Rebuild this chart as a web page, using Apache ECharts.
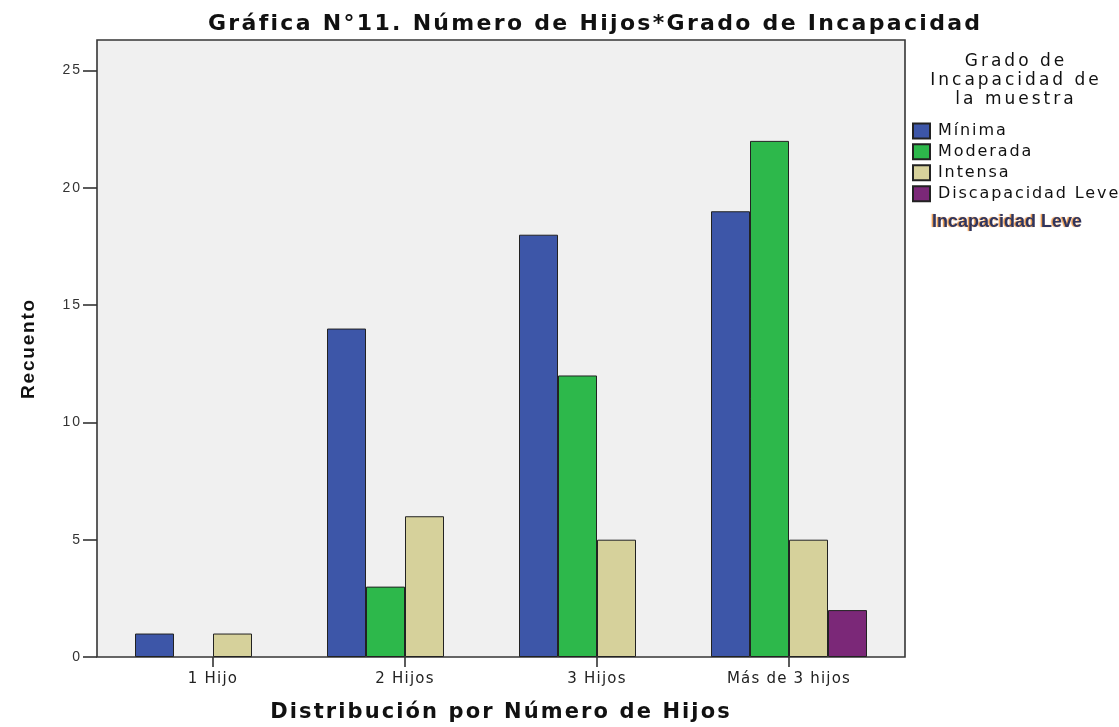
<!DOCTYPE html>
<html>
<head>
<meta charset="utf-8">
<script src="https://cdn.jsdelivr.net/npm/echarts@6/dist/echarts.min.js"></script>
<style>
  html, body { margin: 0; padding: 0; background: #fff; }
  #main { width: 1119px; height: 727px; }
</style>
</head>
<body>
<div id="main"></div>
<script>
// categorias y valores
const categorias = ["1 Hijo", "2 Hijos", "3 Hijos", "Más de 3 hijos"];
const minima = [1, 14, 18, 19];
const moderada = [null, 3, 12, 22];
const intensa = [1, 6, 5, 5];
const discLeve = [null, null, null, 2];
const yTicks = [0, 5, 10, 15, 20, 25];

const colores = ["#3d56a8", "#2db84b", "#d6d19b", "#7b2878"];
const nombres = ["Mínima", "Moderada", "Intensa", "Discapacidad Leve"];
const datos = [minima, moderada, intensa, discLeve];

const font = "Liberation Sans, Arial, sans-serif";
const wide = "DejaVu Sans, Verdana, sans-serif";

// el grafico original tiene el texto espaciado; espaciado por tamaño de letra
const espaciado = { 22: 2.3, 21: 2.1, 19: 1.8, 17: 3, 16: 1.9, 15: 1.2, 14: 2, 18: 0 };
const spacingFor = (f) => {
  let m = /(\d+(\.\d+)?)px/.exec(f || "");
  let px = m ? parseFloat(m[1]) : 12;
  return (espaciado[px] || 0) + "px";
};
const proto = CanvasRenderingContext2D.prototype;
["fillText", "strokeText", "measureText"].forEach((k) => {
  const orig = proto[k];
  proto[k] = function () {
    if ("letterSpacing" in this) this.letterSpacing = spacingFor(this.font);
    return orig.apply(this, arguments);
  };
});

let series = datos.map((d, i) => ({
  name: nombres[i],
  type: "bar",
  data: d,
  barWidth: 39,
  barGap: "0%",
  itemStyle: {
    color: colores[i],
    borderColor: "#222",
    borderWidth: 1,
  },
}));

var option = {
  animation: false,
  backgroundColor: "#fff",
  title: {
    text: "Gráfica N°11. Número de Hijos*Grado de Incapacidad",
    left: 203,
    top: 7,
    textStyle: {
      fontFamily: wide,
      fontWeight: "bold",
      fontSize: 22,
      color: "#111",
    },
  },
  legend: {
    data: nombres,
    orient: "vertical",
    left: 907,
    top: 117,
    itemWidth: 17,
    itemHeight: 15,
    itemGap: 3,
    icon: "rect",
    textStyle: {
      fontFamily: wide,
      fontSize: 16,
      color: "#111",
      padding: [0, 0, 0, 3],
    },
  },
  grid: {
    left: 117,
    right: 234,
    top: 40,
    bottom: 70,
    outerBoundsMode: "none",
  },
  graphic: [
    {
      type: "rect",
      z: -1,
      shape: { x: 97, y: 40, width: 808, height: 617 },
      style: { fill: "#f0f0f0", stroke: "#363636", lineWidth: 1.6 },
    },
    {
      type: "text",
      x: 1016,
      y: 52,
      style: {
        text: "Grado de\nIncapacidad de\nla muestra",
        align: "center",
        font: "17px " + wide,
        fill: "#111",
        lineHeight: 19,
      },
    },
    {
      type: "text",
      x: 932,
      y: 213,
      style: {
        text: "Incapacidad Leve",
        font: "bold 18px " + font,
        fill: "#2e3560",
        textShadowColor: "rgba(235,140,50,0.9)",
        textShadowOffsetX: -1.5,
        textShadowBlur: 1,
      },
    },
  ],
  xAxis: {
    type: "category",
    data: categorias,
    name: "Distribución por Número de Hijos",
    nameLocation: "middle",
    nameGap: 44,
    nameTextStyle: {
      fontFamily: wide,
      fontWeight: "bold",
      fontSize: 21,
      color: "#111",
    },
    axisLine: { show: false },
    axisTick: {
      show: true,
      alignWithLabel: true,
      length: 10,
      lineStyle: { color: "#333", width: 1.6 },
    },
    axisLabel: {
      fontFamily: wide,
      fontSize: 15,
      color: "#222",
      margin: 14,
    },
  },
  yAxis: {
    type: "value",
    min: 0,
    max: 26.3,
    interval: 5,
    offset: 20,
    name: "Recuento",
    nameLocation: "middle",
    nameGap: 58,
    nameTextStyle: {
      fontFamily: font,
      fontWeight: "bold",
      fontSize: 19,
      color: "#111",
    },
    axisLine: { show: false },
    splitLine: { show: false },
    axisTick: {
      show: true,
      length: 14,
      customValues: yTicks,
      lineStyle: { color: "#333", width: 1.6 },
    },
    axisLabel: {
      fontFamily: font,
      fontSize: 14,
      color: "#333",
      margin: 15,
      customValues: yTicks,
    },
  },
  series: series,
};

var myChart = echarts.init(document.getElementById("main"));
myChart.setOption(option);
</script>
</body>
</html>
